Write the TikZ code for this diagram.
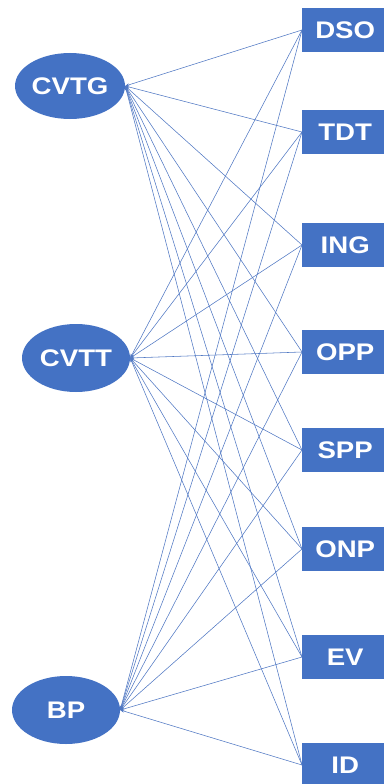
\documentclass[tikz,border=0pt]{standalone}
\usepackage{fontspec}
\newfontfamily\labfont{Liberation Sans}[FakeStretch=1.15]
\usetikzlibrary{arrows.meta,shapes.geometric}
\definecolor{nodeblue}{RGB}{68,114,196}
\definecolor{linkblue}{RGB}{80,120,195}
\begin{document}
\begin{tikzpicture}[x=1pt,y=-1pt,
  latent/.style={ellipse, fill=nodeblue, draw=none, text=white,
    font=\labfont\bfseries\fontsize{24}{24}\selectfont, inner sep=0pt},
  itembox/.style={rectangle, fill=nodeblue, draw=none, text=white,
    font=\labfont\bfseries\fontsize{24}{24}\selectfont,
    minimum width=86pt, minimum height=44pt, inner sep=0pt, anchor=west},
  link/.style={draw=linkblue, line width=0.55pt,
    -{Stealth[length=4pt,width=3pt]}}]
\useasboundingbox (0,0) rectangle (383,784);

% latent constructs
\node[latent, minimum width=110pt, minimum height=66pt] (cvtg) at (70,86) {CVTG};
\node[latent, minimum width=108pt, minimum height=68pt] (cvtt) at (76,358) {CVTT};
\node[latent, minimum width=108pt, minimum height=68pt] (bp) at (66,710) {BP};

% indicator boxes
\node[itembox] (dso) at (302,30) {DSO};
\node[itembox] (tdt) at (302,132) {TDT};
\node[itembox] (ing) at (302,245) {ING};
\node[itembox] (opp) at (302,352) {OPP};
\node[itembox] (spp) at (302,450) {SPP};
\node[itembox] (onp) at (302,549) {ONP};
\node[itembox] (ev) at (302,657) {EV};
\node[itembox] (id) at (302,765) {ID};

% every indicator points to every construct
\foreach \b in {dso,tdt,ing,opp,spp,onp,ev,id}{
  \foreach \e in {cvtg,cvtt,bp}{
    \draw[link] (\b.west) -- (\e.east);
  }
}
\end{tikzpicture}
\end{document}
